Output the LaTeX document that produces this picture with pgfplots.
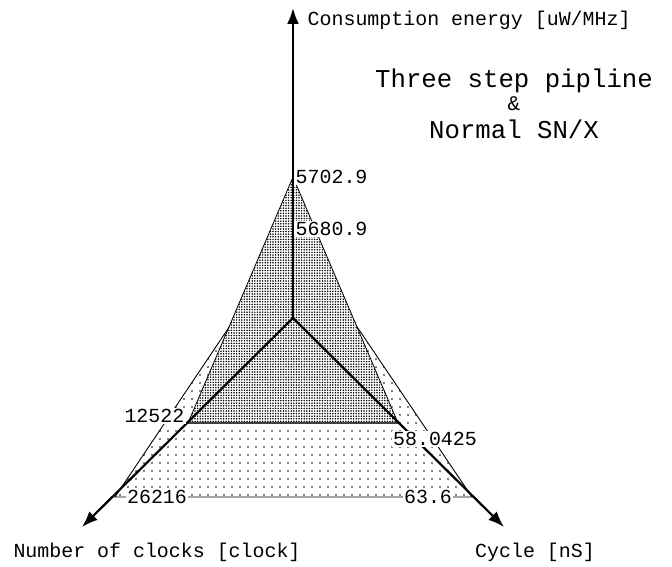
\documentclass[border=0pt]{standalone}
\usepackage{pgfplots}
\pgfplotsset{compat=1.18}
\usepackage{fontspec}
\setmainfont{Liberation Mono}
\usetikzlibrary{patterns.meta,arrows.meta}
\tikzset{lbl/.style={font=\fontsize{20}{21}\selectfont, inner sep=1.5pt}}
\begin{document}
\begin{tikzpicture}
\begin{axis}[
  width=672bp, height=567bp, scale only axis,
  xmin=0, xmax=672, ymin=0, ymax=567, y dir=reverse,
  hide axis, clip=false,
]
\path (axis cs:0,0) rectangle (axis cs:672,567);
% outer triangle: Normal SN/X (5680.9, 26216, 63.6)
\addplot[draw=black, line width=0.9pt, pattern={Dots[distance=8bp, radius=0.8bp]}] coordinates {(293,232) (115,497) (472,497) (293,232)};
% inner triangle: Three step pipeline (5702.9, 12522, 58.0425)
\addplot[draw=none, fill=white] coordinates {(293,177) (188,423) (398,423) (293,177)};
\addplot[draw=black, line width=0.8pt, pattern={Dots[distance=2.6bp, radius=0.85bp]}] coordinates {(293,177) (188,423) (398,423) (293,177)};
\addplot[draw=black!75, line width=1.5pt] coordinates {(188,423) (398,423)};
% axes
\addplot[line width=2.2pt, -{Latex[length=16bp,width=12bp]}] coordinates {(293,318) (293,8)};
\addplot[line width=2.2pt, -{Latex[length=16bp,width=12bp]}] coordinates {(293,318) (82,527)};
\addplot[line width=2.2pt, -{Latex[length=16bp,width=12bp]}] coordinates {(293,318) (504,527)};
% value labels
\node[lbl, fill=white, anchor=west] at (axis cs:294,177) {5702.9};
\node[lbl, fill=white, anchor=west] at (axis cs:294,229) {5680.9};
\node[lbl, fill=white, anchor=east] at (axis cs:186,416) {12522};
\node[lbl, fill=white] at (axis cs:435,439) {58.0425};
\node[lbl, fill=white] at (axis cs:157,497) {26216};
\node[lbl, fill=white] at (axis cs:428,497) {63.6};
% axis titles
\node[lbl, anchor=west] at (axis cs:306,20) {Consumption energy [uW/MHz]};
\node[lbl] at (axis cs:157,552) {Number of clocks [clock]};
\node[lbl] at (axis cs:535,552) {Cycle [nS]};
\node[lbl, font=\fontsize{25.8}{27}\selectfont] at (axis cs:514,81) {Three step pipline};
\node[lbl, font=\fontsize{21}{22}\selectfont] at (axis cs:514,104) {\&};
\node[lbl, font=\fontsize{25.8}{27}\selectfont] at (axis cs:514,129) {Normal SN/X};
\end{axis}
\end{tikzpicture}
\end{document}
